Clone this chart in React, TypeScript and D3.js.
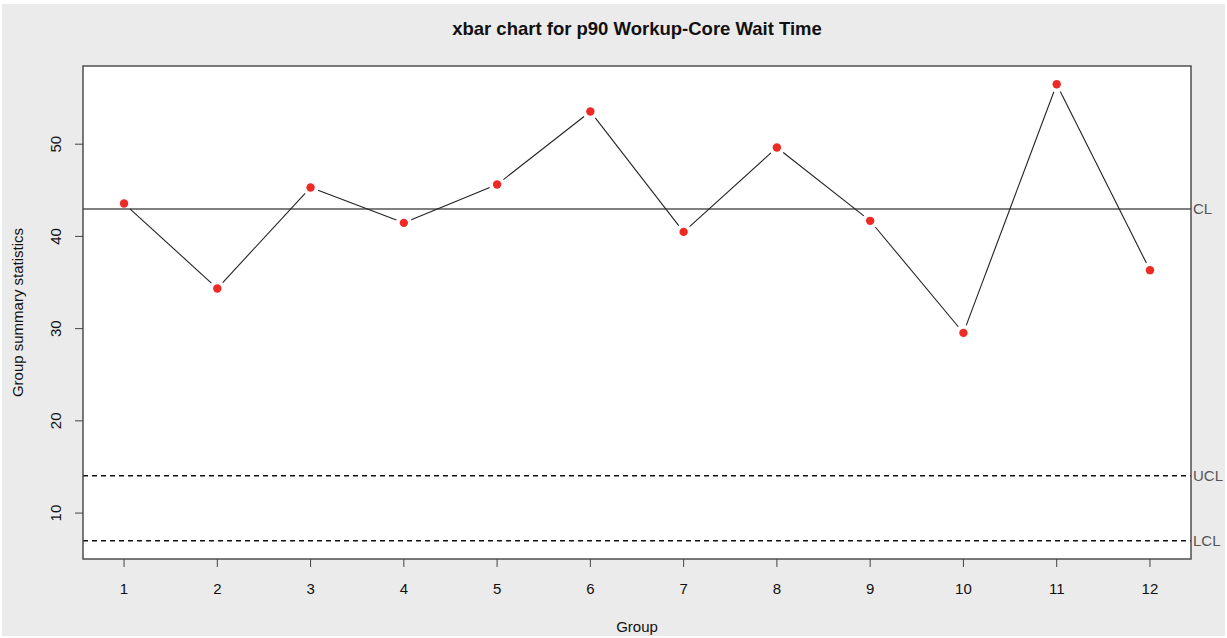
import React from "react";
import * as d3 from "d3";

// Group means of the p90 wait time, one per group
const groups: number[] = [1, 2, 3, 4, 5, 6, 7, 8, 9, 10, 11, 12];
const groupMeans: number[] = [43.57, 34.36, 45.31, 41.47, 45.63, 53.54, 40.49, 49.64, 41.69, 29.54, 56.5, 36.34];

// Control limits
const centerLine = 42.98;
const upperLimit = 14.04;
const lowerLimit = 7.0;

const yTicks: number[] = [10, 20, 30, 40, 50];
const limitLabels: string[] = ["CL", "UCL", "LCL"];

const W = 1227;
const H = 638;
const box = { left: 83, right: 1191, top: 66, bottom: 559 };
const font = "'Liberation Sans', Arial, Helvetica, sans-serif";

export default function App() {
  // R-style 4% padded ranges
  const xMin = d3.min(groups)!;
  const xMax = d3.max(groups)!;
  const xPad = (xMax - xMin) * 0.04;
  const x = d3.scaleLinear().domain([xMin - xPad, xMax + xPad]).range([box.left, box.right]);

  const allY = [...groupMeans, centerLine, upperLimit, lowerLimit];
  const yMin = d3.min(allY)!;
  const yMax = d3.max(allY)!;
  const yPad = (yMax - yMin) * 0.04;
  const y = d3.scaleLinear().domain([yMin - yPad, yMax + yPad]).range([box.bottom, box.top]);

  const pts = groups.map((g, i) => [x(g), y(groupMeans[i])] as [number, number]);

  // "type = b" style: segments stop short of each point
  const gap = 8;
  const segs = pts.slice(1).map((p, i) => {
    const a = pts[i];
    const dx = p[0] - a[0];
    const dy = p[1] - a[1];
    const len = Math.hypot(dx, dy);
    const ux = dx / len;
    const uy = dy / len;
    return { x1: a[0] + ux * gap, y1: a[1] + uy * gap, x2: p[0] - ux * gap, y2: p[1] - uy * gap };
  });

  const limits = [centerLine, upperLimit, lowerLimit];

  return (
    <svg
      width={W}
      height={H}
      style={{ position: "absolute", left: 0, top: 0, display: "block" }}
      fontFamily={font}
    >
      <rect x={0} y={0} width={W} height={H} fill="#ffffff" />
      <rect x={2} y={4} width={W - 4} height={H - 6} fill="#ebebeb" />
      <rect
        x={box.left}
        y={box.top}
        width={box.right - box.left}
        height={box.bottom - box.top}
        fill="#ffffff"
      />

      <text x={(box.left + box.right) / 2} y={35} textAnchor="middle" fontSize={18.5} fontWeight="bold" fill="#111">
        xbar chart for p90 Workup-Core Wait Time
      </text>

      {/* control limit lines */}
      <line x1={box.left} x2={box.right} y1={y(centerLine)} y2={y(centerLine)} stroke="#555" strokeWidth={1.4} />
      <line x1={box.left} x2={box.right} y1={y(upperLimit)} y2={y(upperLimit)} stroke="#111" strokeWidth={1.4} strokeDasharray="5,4" />
      <line x1={box.left} x2={box.right} y1={y(lowerLimit)} y2={y(lowerLimit)} stroke="#111" strokeWidth={1.4} strokeDasharray="5,4" />
      {limits.map((v, i) => (
        <text key={limitLabels[i]} x={box.right + 2} y={y(v)} dy="0.35em" fontSize={15} fill="#555">
          {limitLabels[i]}
        </text>
      ))}

      {/* series */}
      {segs.map((s, i) => (
        <line key={i} x1={s.x1} y1={s.y1} x2={s.x2} y2={s.y2} stroke="#222" strokeWidth={1.1} />
      ))}
      {pts.map((p, i) => (
        <circle key={i} cx={p[0]} cy={p[1]} r={4.2} fill="#ee2a24" />
      ))}

      {/* frame */}
      <rect
        x={box.left}
        y={box.top}
        width={box.right - box.left}
        height={box.bottom - box.top}
        fill="none"
        stroke="#444"
        strokeWidth={1.4}
      />

      {/* x axis */}
      {groups.map((g) => (
        <g key={g}>
          <line x1={x(g)} x2={x(g)} y1={box.bottom} y2={box.bottom + 8} stroke="#444" strokeWidth={1} />
          <text x={x(g)} y={594} textAnchor="middle" fontSize={15} fill="#111">
            {g}
          </text>
        </g>
      ))}
      <text x={(box.left + box.right) / 2} y={632} textAnchor="middle" fontSize={15} fill="#111">
        Group
      </text>

      {/* y axis */}
      {yTicks.map((t) => (
        <g key={t}>
          <line x1={box.left - 8} x2={box.left} y1={y(t)} y2={y(t)} stroke="#444" strokeWidth={1} />
          <text
            transform={`translate(61,${y(t)}) rotate(-90)`}
            textAnchor="middle"
            fontSize={15}
            fill="#111"
          >
            {t}
          </text>
        </g>
      ))}
      <text
        transform={`translate(23,${(box.top + box.bottom) / 2}) rotate(-90)`}
        textAnchor="middle"
        fontSize={15}
        fill="#111"
      >
        Group summary statistics
      </text>
    </svg>
  );
}
